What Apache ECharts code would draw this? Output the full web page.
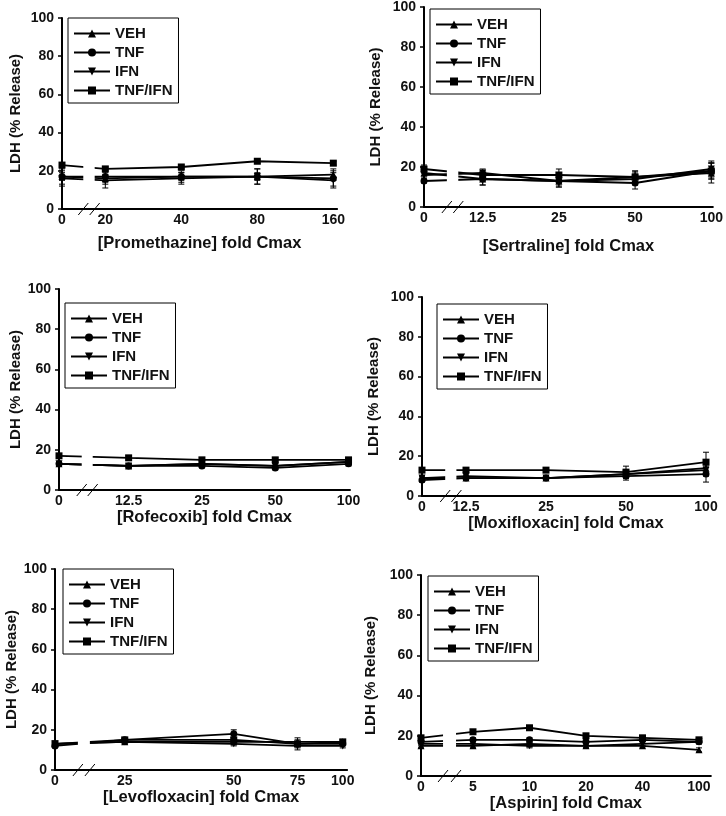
<!DOCTYPE html>
<html><head><meta charset="utf-8">
<script src="https://cdn.jsdelivr.net/npm/echarts@6/dist/echarts.min.js"></script>
<style>html,body{margin:0;padding:0;background:#fff}#c{width:726px;height:816px}</style>
</head><body><div id="c"></div>
<script>
const seriesNames = ['VEH', 'TNF', 'IFN', 'TNF/IFN'];
const yTicks = [0, 20, 40, 60, 80, 100];

// Promethazine
const promethazineConc = [0, 20, 40, 80, 160];
const promethazineTicks = ['0', '20', '40', '80', '160'];
const promethazineVEH = [17, 16, 17, 17, 18];
const promethazineTNF = [17, 17, 17, 17, 16];
const promethazineIFN = [16, 15, 16, 17, 15];
const promethazineTNFIFN = [23, 21, 22, 25, 24];
const promethazineVEHErr = [2, 2, 2, 2, 3];
const promethazineTNFErr = [4, 4, 3, 4, 4];
const promethazineIFNErr = [4, 4, 3, 4, 4];
const promethazineTNFIFNErr = [1, 1, 1, 1, 1];

// Sertraline
const sertralineConc = [0, 12.5, 25, 50, 100];
const sertralineTicks = ['0', '12.5', '25', '50', '100'];
const sertralineVEH = [17, 14, 13, 15, 17];
const sertralineTNF = [13, 14, 13, 12, 18];
const sertralineIFN = [16, 17, 13, 14, 19];
const sertralineTNFIFN = [19, 16, 16, 15, 18];
const sertralineVEHErr = [2, 3, 2, 3, 5];
const sertralineTNFErr = [1, 3, 3, 3, 4];
const sertralineIFNErr = [2, 2, 3, 3, 4];
const sertralineTNFIFNErr = [2, 2, 3, 3, 4];

// Rofecoxib
const rofecoxibConc = [0, 12.5, 25, 50, 100];
const rofecoxibTicks = ['0', '12.5', '25', '50', '100'];
const rofecoxibVEH = [13, 12, 13, 12, 14];
const rofecoxibTNF = [13, 12, 12, 11, 13];
const rofecoxibIFN = [13, 12, 13, 12, 14];
const rofecoxibTNFIFN = [17, 16, 15, 15, 15];
const rofecoxibVEHErr = [1, 1, 1, 1, 1];
const rofecoxibTNFErr = [1, 1, 1, 1, 1];
const rofecoxibIFNErr = [1, 1, 1, 1, 1];
const rofecoxibTNFIFNErr = [1, 1, 1, 1, 1];

// Moxifloxacin
const moxifloxacinConc = [0, 12.5, 25, 50, 100];
const moxifloxacinTicks = ['0', '12.5', '25', '50', '100'];
const moxifloxacinVEH = [9, 9, 9, 11, 14];
const moxifloxacinTNF = [8, 9, 9, 10, 11];
const moxifloxacinIFN = [9, 10, 9, 11, 13];
const moxifloxacinTNFIFN = [13, 13, 13, 12, 17];
const moxifloxacinVEHErr = [1, 1, 1, 2, 3];
const moxifloxacinTNFErr = [1, 1, 1, 2, 4];
const moxifloxacinIFNErr = [1, 1, 1, 2, 3];
const moxifloxacinTNFIFNErr = [1, 1, 1, 3, 5];

// Levofloxacin
const levofloxacinConc = [0, 25, 50, 75, 100];
const levofloxacinTicks = ['0', '25', '50', '75', '100'];
const levofloxacinVEH = [13, 14, 14, 14, 14];
const levofloxacinTNF = [12, 15, 18, 13, 13];
const levofloxacinIFN = [13, 14, 13, 12, 12];
const levofloxacinTNFIFN = [13, 15, 15, 13, 14];
const levofloxacinVEHErr = [1, 1, 1, 1, 1];
const levofloxacinTNFErr = [1, 1, 2, 3, 1];
const levofloxacinIFNErr = [1, 1, 1, 1, 1];
const levofloxacinTNFIFNErr = [1, 1, 1, 1, 1];

// Aspirin
const aspirinConc = [0, 5, 10, 20, 40, 100];
const aspirinTicks = ['0', '5', '10', '20', '40', '100'];
const aspirinVEH = [15, 15, 16, 15, 15, 13];
const aspirinTNF = [17, 18, 18, 17, 18, 17];
const aspirinIFN = [16, 16, 15, 15, 16, 17];
const aspirinTNFIFN = [19, 22, 24, 20, 19, 18];
const aspirinVEHErr = [1, 1, 1, 1, 1, 1];
const aspirinTNFErr = [1, 1, 1, 1, 1, 1];
const aspirinIFNErr = [1, 1, 1, 1, 1, 1];
const aspirinTNFIFNErr = [1, 1, 1, 1, 1, 1];

const FONT = '"Liberation Sans", Arial, Helvetica, sans-serif';

const panels = [
  { title: '[Promethazine] fold Cmax', conc: promethazineConc, ticks: promethazineTicks,
    vals: [promethazineVEH, promethazineTNF, promethazineIFN, promethazineTNFIFN],
    errs: [promethazineVEHErr, promethazineTNFErr, promethazineIFNErr, promethazineTNFIFNErr],
    scale: 'index', left: 62, top: 18, height: 191, unit: 76, gap: 0.57, pad: 0.05, brk: [0.28, 0.43],
    nameGapY: 39, nameGapX: 26, legend: [68, 18] },
  { title: '[Sertraline] fold Cmax', conc: sertralineConc, ticks: sertralineTicks,
    vals: [sertralineVEH, sertralineTNF, sertralineIFN, sertralineTNFIFN],
    errs: [sertralineVEHErr, sertralineTNFErr, sertralineIFNErr, sertralineTNFIFNErr],
    scale: 'index', left: 424, top: 7, height: 200, unit: 76.3, gap: 0.77, pad: 0.02, brk: [0.30, 0.45],
    nameGapY: 41, nameGapX: 31, legend: [430, 9] },
  { title: '[Rofecoxib] fold Cmax', conc: rofecoxibConc, ticks: rofecoxibTicks,
    vals: [rofecoxibVEH, rofecoxibTNF, rofecoxibIFN, rofecoxibTNFIFN],
    errs: [rofecoxibVEHErr, rofecoxibTNFErr, rofecoxibIFNErr, rofecoxibTNFIFNErr],
    scale: 'index', left: 59, top: 289, height: 201, unit: 73.3, gap: 0.95, pad: 0.02, brk: [0.31, 0.46],
    nameGapY: 36, nameGapX: 14, legend: [65, 303] },
  { title: '[Moxifloxacin] fold Cmax', conc: moxifloxacinConc, ticks: moxifloxacinTicks,
    vals: [moxifloxacinVEH, moxifloxacinTNF, moxifloxacinIFN, moxifloxacinTNFIFN],
    errs: [moxifloxacinVEHErr, moxifloxacinTNFErr, moxifloxacinIFNErr, moxifloxacinTNFIFNErr],
    scale: 'index', left: 422, top: 297, height: 199, unit: 80, gap: 0.55, pad: 0.05, brk: [0.29, 0.43],
    nameGapY: 41, nameGapX: 18, legend: [437, 304] },
  { title: '[Levofloxacin] fold Cmax', conc: levofloxacinConc, ticks: levofloxacinTicks,
    vals: [levofloxacinVEH, levofloxacinTNF, levofloxacinIFN, levofloxacinTNFIFN],
    errs: [levofloxacinVEHErr, levofloxacinTNFErr, levofloxacinIFNErr, levofloxacinTNFIFNErr],
    scale: 'log2', left: 55, top: 569, height: 201, unit: 109, gap: 0.64, pad: 0.04, brk: [0.21, 0.32],
    nameGapY: 35, nameGapX: 18, legend: [63, 569] },
  { title: '[Aspirin] fold Cmax', conc: aspirinConc, ticks: aspirinTicks,
    vals: [aspirinVEH, aspirinTNF, aspirinIFN, aspirinTNFIFN],
    errs: [aspirinVEHErr, aspirinTNFErr, aspirinIFNErr, aspirinTNFIFNErr],
    scale: 'index', left: 421, top: 575, height: 201, unit: 56.5, gap: 0.92, pad: 0.21, brk: [0.39, 0.62],
    nameGapY: 43, nameGapX: 17, legend: [428, 576] }
];

const symbols = ['triangle', 'circle', 'path://M0,0 L10,0 L5,9 Z', 'rect'];
const symbolSizes = [7, 7, 7, 7];

function positions(p) {
  return p.conc.map((c, i) => {
    if (i === 0) return 0;
    if (p.scale === 'log2') return p.gap + Math.log2(c / p.conc[1]);
    return p.gap + (i - 1);
  });
}

function renderErr(params, api) {
  const x = api.value(0), v = api.value(1), e = api.value(2);
  const t = api.coord([x, v + e]), b = api.coord([x, v - e]);
  const cw = 3;
  const st = { stroke: '#000', lineWidth: 1 };
  return { type: 'group', children: [
    { type: 'line', shape: { x1: t[0], y1: t[1], x2: b[0], y2: b[1] }, style: st },
    { type: 'line', shape: { x1: t[0] - cw, y1: t[1], x2: t[0] + cw, y2: t[1] }, style: st },
    { type: 'line', shape: { x1: b[0] - cw, y1: b[1], x2: b[0] + cw, y2: b[1] }, style: st }
  ]};
}

function renderBreak(params, api) {
  const a = api.value(0), b = api.value(1);
  const pT = api.coord([a, 40]), pA = api.coord([a, 0]), pB = api.coord([b, 0]);
  const y0 = pA[1];
  const st = { stroke: '#000', lineWidth: 1 };
  return { type: 'group', children: [
    { type: 'rect', shape: { x: pA[0], y: pT[1], width: pB[0] - pA[0], height: y0 - pT[1] - 2 }, style: { fill: '#fff' } },
    { type: 'line', shape: { x1: pA[0] - 5, y1: y0 + 6, x2: pA[0] + 5, y2: y0 - 6 }, style: st },
    { type: 'line', shape: { x1: pB[0] - 5, y1: y0 + 6, x2: pB[0] + 5, y2: y0 - 6 }, style: st }
  ]};
}

const grid = [], xAxis = [], yAxis = [], series = [], legend = [];
panels.forEach((p, i) => {
  const pos = positions(p);
  const xmax = pos[pos.length - 1] + p.pad;
  grid.push({ left: p.left, top: p.top, width: xmax * p.unit, height: p.height });
  xAxis.push({
    type: 'value', gridIndex: i, min: 0, max: xmax,
    name: p.title, nameLocation: 'middle', nameGap: p.nameGapX,
    nameTextStyle: { fontFamily: FONT, fontWeight: 'bold', fontSize: 16.5, color: '#111' },
    axisLine: { show: true, onZero: false, lineStyle: { color: '#000', width: 2 } },
    axisTick: { show: false },
    splitLine: { show: false },
    axisLabel: {
      customValues: pos, margin: 4,
      fontFamily: FONT, fontWeight: 'bold', fontSize: 14, color: '#111',
      formatter: (val) => {
        const k = pos.findIndex(q => Math.abs(q - val) < 1e-6);
        return k >= 0 ? p.ticks[k] : '';
      }
    }
  });
  yAxis.push({
    type: 'value', gridIndex: i, min: 0, max: 100, interval: 20,
    name: 'LDH (% Release)', nameLocation: 'middle', nameGap: p.nameGapY,
    nameTextStyle: { fontFamily: FONT, fontWeight: 'bold', fontSize: 15, color: '#111' },
    axisLine: { show: true, lineStyle: { color: '#000', width: 2 } },
    axisTick: { show: true, length: 4, lineStyle: { color: '#000', width: 1.5 } },
    splitLine: { show: false },
    axisLabel: { margin: 8, fontFamily: FONT, fontWeight: 'bold', fontSize: 14, color: '#111',
      formatter: (v) => yTicks.includes(v) ? String(v) : '' }
  });
  const errData = [];
  seriesNames.forEach((name, s) => {
    series.push({
      type: 'line', name, xAxisIndex: i, yAxisIndex: i,
      data: p.vals[s].map((v, k) => [pos[k], v]),
      symbol: symbols[s], symbolSize: symbolSizes[s],
      lineStyle: { color: '#000', width: 1.8 },
      itemStyle: { color: '#000' },
      animation: false, z: 3
    });
    p.vals[s].forEach((v, k) => errData.push([pos[k], v, p.errs[s][k]]));
  });
  series.push({ type: 'custom', xAxisIndex: i, yAxisIndex: i, renderItem: renderErr,
    data: errData, encode: { x: 0, y: 1 }, animation: false, z: 2, silent: true });
  series.push({ type: 'custom', xAxisIndex: i, yAxisIndex: i, renderItem: renderBreak,
    data: [[p.brk[0], p.brk[1]]], encode: { x: [0, 1] }, animation: false, z: 10, silent: true });
  legend.push({
    data: seriesNames, orient: 'vertical', left: p.legend[0], top: p.legend[1],
    borderColor: '#000', borderWidth: 1, padding: [8, 6, 5, 5],
    itemWidth: 36, itemHeight: 10, itemGap: 4, selectedMode: false,
    textStyle: { fontFamily: FONT, fontWeight: 'bold', fontSize: 15, color: '#111' }
  });
});

const chart = echarts.init(document.getElementById('c'), null, { renderer: 'canvas' });
chart.setOption({ backgroundColor: '#fff', animation: false, grid, xAxis, yAxis, series, legend });
</script>
</body></html>
